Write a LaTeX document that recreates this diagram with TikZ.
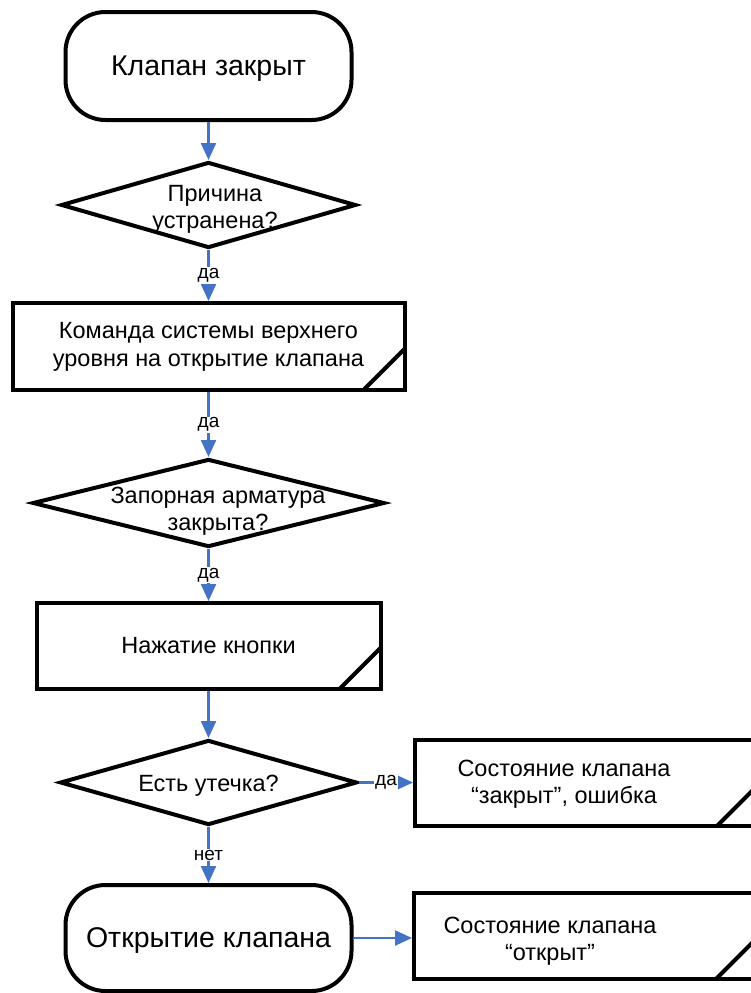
\documentclass[tikz,border=0pt]{standalone}
\usepackage{fontspec}
\setmainfont{Liberation Sans}
\usetikzlibrary{shapes.geometric,arrows.meta,calc}
\definecolor{linkblue}{HTML}{4472C4}
\begin{document}
\begin{tikzpicture}[x=1pt,y=-1pt,
  term/.style={draw, line width=4pt, rounded corners=40pt, minimum width=286pt, text depth=0pt, font=\fontsize{28.5}{33}\selectfont},
  procbox/.style={draw, line width=4pt, align=center, font=\fontsize{23.5}{28}\selectfont},
  dia/.style={draw, diamond, line width=4pt, inner sep=0pt},
  midtxt/.style={align=center, font=\fontsize{23.5}{27}\selectfont},
  flow/.style={draw=linkblue, line width=2.3pt, -{Triangle[length=17pt,width=15pt]}},
  lbl/.style={fill=white, inner sep=1pt, text=black, font=\fontsize{19}{21}\selectfont},
  cut/.style={line width=4pt}]
\useasboundingbox (0,0) rectangle (751,993);
\clip (0,0) rectangle (751,993);

\node[term, minimum height=108pt] (t1) at (208.5,66) {Клапан закрыт};
\node[dia, minimum width=295pt, minimum height=86pt] (d1) at (208.5,205) {};
\node[midtxt] (d1t) at (215,209) {Причина\\устранена?};
\node[procbox, minimum width=392pt, minimum height=87pt] (b2) at (208.5,346.5) {Команда системы верхнего\\уровня на открытие клапана};
\node[dia, minimum width=352pt, minimum height=88pt] (d2) at (208.5,503) {};
\node[midtxt] (d2t) at (218,511) {Запорная арматура\\закрыта?};
\node[procbox, minimum width=344pt, minimum height=86pt] (b3) at (208.5,646) {Нажатие кнопки};
\node[dia, minimum width=297pt, minimum height=85pt] (d3) at (208.5,782.5) {};
\node[midtxt] (d3t) at (208.5,786) {Есть утечка?};
\node[procbox, minimum width=343pt, minimum height=86pt] (b4) at (586.5,783) {};
\node[midtxt] (b4t) at (564,784) {Состояние клапана\\“закрыт”, ошибка};
\node[term, minimum height=106pt] (t2) at (208.5,938) {Открытие клапана};
\node[procbox, minimum width=343pt, minimum height=86pt] (b5) at (585.5,936) {};
\node[midtxt] (b5t) at (550,941) {Состояние клапана\\“открыт”};

% corner cuts
\foreach \b in {b2,b3,b4,b5}{
  \draw[cut] ($(\b.south east)+(-43,-2)$) -- ($(\b.south east)+(-2,-43)$);
}

\draw[flow] (t1.south) -- (d1.north);
\draw[flow] (d1.south) -- node[lbl]{да} (b2.north);
\draw[flow] (b2.south) -- node[lbl]{да} (d2.north);
\draw[flow] (d2.south) -- node[lbl]{да} (b3.north);
\draw[flow] (b3.south) -- (d3.north);
\draw[flow] (d3.east) -- node[lbl]{да} (d3.east -| b4.west);
\draw[flow] (d3.south) -- node[lbl]{нет} (t2.north);
\draw[flow] (t2.east) -- (t2.east -| b5.west);
\end{tikzpicture}
\end{document}
